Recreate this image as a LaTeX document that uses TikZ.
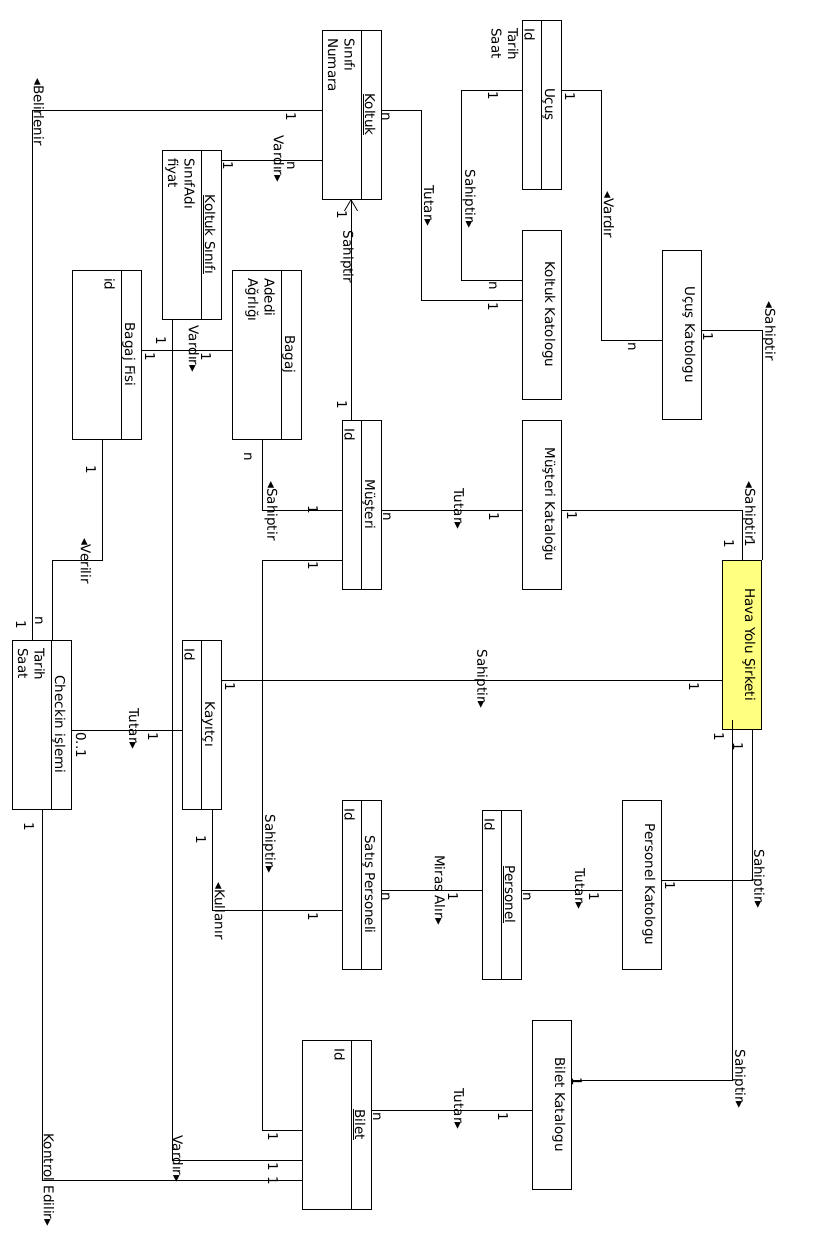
\documentclass[tikz,border=0pt]{standalone}
\usepackage{fontspec}
\setmainfont{DejaVu Sans}
\usetikzlibrary{arrows.meta}
\definecolor{airline}{RGB}{255,255,128}

% plain box given by its left/right/top/bottom edges (y grows downwards)
\newcommand\umlbox[6][]{%
  \node[box,#1,minimum width={#4-#3},minimum height={#6-#5}] (#2) at ({(#3+#4)/2},{(#5+#6)/2}) {};}
% class: box, name strip, underlined name and attribute list
\newcommand\umlclass[7]{%
  \umlbox{#1}{#2}{#3}{#4}{#5}
  \draw[conn] ([xshift=-20pt]#1.north east) -- ([xshift=-20pt]#1.south east);
  \node[title] (#1-name) at ([xshift=-16pt]#1.east) {\underline{#6}};
  \node[attrs] (#1-attr) at ([xshift=-26pt,yshift=-8pt]#1.north east) {#7};}
% catalogue style box with a plain name
\newcommand\umlcat[7][]{%
  \umlbox[#1]{#2}{#3}{#4}{#5}{#6}
  \node[title] (#2-name) at ([xshift=-16pt]#2.east) {#7};}

\begin{document}
\begin{tikzpicture}[x=1pt,y=-1pt,
  box/.style={draw,line width=0.8pt,inner sep=0,outer sep=0},
  conn/.style={line width=0.8pt},
  rtext/.style={rotate=-90,inner sep=0,font=\fontsize{13.5}{16.5}\selectfont},
  title/.style={rtext,anchor=base},
  attrs/.style={rtext,anchor=north west,align=left},
  lbl/.style={rtext,anchor=center},
]
\useasboundingbox[fill=white] (0,0) rectangle (840,1260);

% ---- classes ----
\umlclass{koltuk}{322}{381}{30}{199}{Koltuk}{Sınıfı\\Numara}
\umlclass{ucus}{522}{561}{20}{189}{Uçuş}{Id\\Tarih\\Saat}
\umlclass{ksinif}{162}{221}{150}{319}{Koltuk Sınıfı}{SınıfAdı\\fiyat}
\umlclass{bagajfis}{72}{141}{270}{439}{Bagaj Fisi}{id}
\umlclass{bagaj}{232}{301}{270}{439}{Bagaj}{Adedi\\Ağrlığı}
\umlclass{musteri}{342}{381}{420}{589}{Müşteri}{Id}
\umlclass{checkin}{12}{71}{640}{809}{Checkin işlemi}{Tarih\\Saat}
\umlclass{kayitci}{182}{221}{640}{809}{Kayıtçı}{Id}
\umlclass{satis}{342}{381}{800}{969}{Satış Personeli}{Id}
\umlclass{personel}{482}{521}{810}{979}{Personel}{Id}
\umlclass{bilet}{302}{371}{1040}{1209}{Bilet}{Id}

% ---- catalogues and the company ----
\umlcat{koltukkat}{522}{561}{230}{399}{Koltuk Katologu}
\umlcat{ucuskat}{662}{701}{250}{419}{Uçuş Katologu}
\umlcat{musterikat}{522}{561}{420}{589}{Müşteri Kataloğu}
\umlcat{personelkat}{622}{661}{800}{969}{Personel Katologu}
\umlcat{biletkat}{532}{571}{1020}{1189}{Bilet Katalogu}
\umlcat[fill=airline]{hava}{722}{761}{560}{729}{Hava Yolu Şirketi}

% ---- bend points ----
\coordinate (cA) at (32,110);
\coordinate (cC) at (421,300);
\coordinate (cD) at (461,280);
\coordinate (cE) at (601,340);
\coordinate (cF) at (762,330);
\coordinate (cG) at (742,510);
\coordinate (cJ) at (262,510);
\coordinate (cK1) at (262,560);
\coordinate (cK2) at (262,1130);
\coordinate (cL) at (42,1180);
\coordinate (cM) at (172,1160);
\coordinate (cN1) at (102,560);
\coordinate (cN2) at (52,560);
\coordinate (cQ) at (212,910);
\coordinate (cT) at (752,880);
\coordinate (cU1) at (732,720);
\coordinate (cU2) at (732,1080);

% ---- associations ----
\draw[conn] (koltuk.west |- cA) -- (cA) -- (checkin.north -| cA);
\draw[conn] (ksinif.east |- 0,160) -- (koltuk.west |- 0,160);
\draw[conn] (koltuk.east |- 0,110) -| (cC) -- (koltukkat.west |- cC);
\draw[conn] (ucus.west |- 0,90) -| (cD) -- (koltukkat.west |- cD);
\draw[conn] (ucus.east |- 0,90) -| (cE) -- (ucuskat.west |- cE);
\draw[conn] (ucuskat.east |- cF) -- (cF) -- (hava.north -| cF);
\draw[conn] (musterikat.east |- cG) -- (cG) -- (hava.north -| cG);
\draw[conn] (musteri.east |- 0,510) -- (musterikat.west |- 0,510);
\draw[conn,-{Straight Barb[length=11pt,width=13pt]}] (musteri.north -| 351,0) -- (koltuk.south -| 351,0);
\draw[conn] (bagaj.south -| cJ) -- (cJ) -- (musteri.west |- cJ);
\draw[conn] (musteri.west |- cK1) -- (cK1) -- (cK2) -- (bilet.west |- cK2);
\draw[conn] (checkin.south -| cL) -- (cL) -- (bilet.west |- cL);
\draw[conn] (ksinif.south -| cM) -- (cM) -- (bilet.west |- cM);
\draw[conn] (bagajfis.east |- 0,350) -- (bagaj.west |- 0,350);
\draw[conn] (bagajfis.south -| cN1) -- (cN1) -- (cN2) -- (checkin.north -| cN2);
\draw[conn] (kayitci.east |- 0,680) -- (hava.west |- 0,680);
\draw[conn] (checkin.east |- 0,730) -- (kayitci.west |- 0,730);
\draw[conn] (kayitci.south -| cQ) -- (cQ) -- (satis.west |- cQ);
\draw[conn] (satis.east |- 0,890) -- (personel.west |- 0,890);
\draw[conn] (personel.east |- 0,890) -- (personelkat.west |- 0,890);
\draw[conn] (personelkat.east |- cT) -- (cT) -- (hava.south -| cT);
\draw[conn] (cU1) -- (cU2) -- (biletkat.east |- cU2);
\draw[conn] (bilet.east |- 0,1110) -- (biletkat.west |- 0,1110);

% ---- association names ----
\foreach \t/\x/\y [count=\i] in {
  ◂Belirlenir/39/112, Vardır▸/279/159, Tutar▸/429/206, Sahiptir▸/469/199,
  ◂Vardır/609/215, ◂Sahiptir/769/331, ◂Sahiptir/749/511, Tutar▸/459/509,
  Sahiptir▸/481/679, Sahiptir/347/257, ◂Sahiptir/271/511, ◂Verilir/86/561,
  Vardır▸/194/349, Tutar▸/134/729, ◂Kullanır/220/911, Sahiptir▸/269/844,
  Miras Alır▸/440/890, Tutar▸/580/889, Sahiptir▸/758/879, Sahiptir▸/739/1079,
  Tutar▸/459/1109, Vardır▸/178/1159, Kontrol Edilir▸/49/1180}
  \node[lbl] (assoc\i) at (\x,\y) {\t};

% ---- multiplicities ----
\foreach \t/\x/\y [count=\i] in {
  1/291/117, 1/228/166, n/291/166, n/386/117, 1/493/307, 1/493/96, n/493/286,
  1/570/97, n/632/347, 1/708/337, 1/750/543, 1/729/544, 1/572/516, n/387/517,
  1/494/517, 1/694/687, 1/342/405, 1/342/215, n/248/457, 1/313/510, 1/313/566,
  1/91/470, 1/150/357, 1/161/341, 1/206/357, n/39/621, 1/21/625, 0..1/81/745,
  1/153/737, 1/230/687, 1/201/840, 1/313/917, n/386/897, 1/453/897, n/527/897,
  1/594/897, 1/670/886, 1/738/747, 1/719/737, 1/577/1082, n/377/1117,
  1/503/1117, 1/273/1137, 1/273/1167, 1/273/1181, 1/29/827}
  \node[lbl] (mult\i) at (\x,\y) {\t};
\end{tikzpicture}
\end{document}
